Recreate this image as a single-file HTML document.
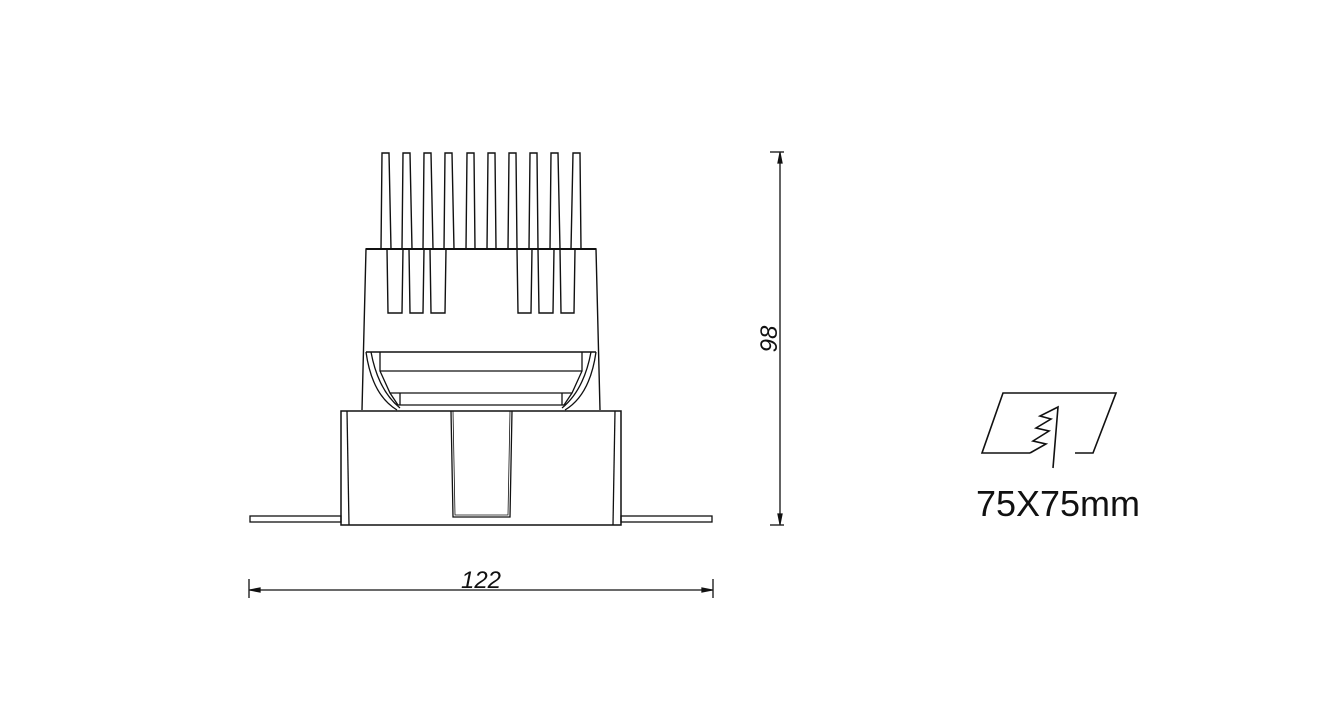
<!DOCTYPE html>
<html><head><meta charset="utf-8"><style>
html,body{margin:0;padding:0;background:#fff;}
svg{display:block;}
</style></head><body>
<svg width="1322" height="723" viewBox="0 0 1322 723" xmlns="http://www.w3.org/2000/svg" fill="none" stroke="#111" stroke-width="1.3">
<g stroke-width="1.4">
<path d="M381,249 L382,153 L389,153 L391,249"/>
<path d="M402,249 L403,153 L410,153 L412,249"/>
<path d="M423,249 L424,153 L431,153 L433,249"/>
<path d="M444,249 L445,153 L452,153 L454,249"/>
<path d="M466,249 L467,153 L474,153 L475,249"/>
<path d="M487,249 L488,153 L495,153 L496,249"/>
<path d="M508,249 L509,153 L516,153 L517,249"/>
<path d="M529,249 L530,153 L537,153 L538,249"/>
<path d="M550,249 L551,153 L558,153 L560,249"/>
<path d="M571,249 L573,153 L580,153 L581,249"/>
</g>
<path d="M381,249 L366,249 L362,410 M581,249 L596,249 L600,410" stroke-width="1.4"/>
<line x1="366" y1="249" x2="596" y2="249" stroke-width="2"/>
<line x1="366" y1="352" x2="596" y2="352" stroke-width="1.6"/>
<g stroke-width="1.4">
<path d="M387,249 L388,313 L402,313 L403,249"/>
<path d="M409,249 L410,313 L423,313 L424,249"/>
<path d="M430,249 L431,313 L445,313 L446,249"/>
<path d="M517,249 L518,313 L531,313 L532,249"/>
<path d="M538,249 L539,313 L553,313 L554,249"/>
<path d="M560,249 L561,313 L574,313 L575,249"/>
</g>
<line x1="380" y1="371" x2="582" y2="371"/>
<line x1="390" y1="393" x2="572" y2="393"/>
<line x1="400" y1="393" x2="400" y2="405"/>
<line x1="562" y1="393" x2="562" y2="405"/>
<line x1="398" y1="405" x2="564" y2="405"/>
<path d="M366,352 Q372,395 397,410 M371,352 Q378,390 400,408 M380,352 L380,371 L390,393 L398,405"/>
<path d="M596,352 Q590,395 565,410 M591,352 Q584,390 562,408 M582,352 L582,371 L572,393 L564,405"/>
<rect x="341" y="411" width="280" height="114" stroke-width="1.5"/>
<line x1="347" y1="411" x2="349" y2="525"/>
<line x1="615" y1="411" x2="613" y2="525"/>
<path d="M451,411 L453,517 L510,517 L512,411"/>
<path d="M453,411 L455,515 L508,515 L510,411" stroke-width="0.8"/>
<rect x="250" y="516" width="91" height="6"/>
<rect x="621" y="516" width="91" height="6"/>
<line x1="249" y1="590" x2="713" y2="590"/>
<line x1="249" y1="579" x2="249" y2="598"/>
<line x1="713" y1="579" x2="713" y2="598"/>
<path d="M250,590 L260,588 L260,592Z M712,590 L702,588 L702,592Z" fill="#111"/>
<text x="481" y="588" font-family="Liberation Sans, sans-serif" font-style="italic" font-size="24" fill="#111" stroke="none" text-anchor="middle">122</text>
<line x1="780" y1="152" x2="780" y2="525"/>
<line x1="770" y1="152" x2="784" y2="152"/>
<line x1="770" y1="525" x2="784" y2="525"/>
<path d="M780,153 L778,163 L782,163Z M780,524 L778,514 L782,514Z" fill="#111"/>
<text x="0" y="0" transform="translate(777,339) rotate(-90)" font-family="Liberation Sans, sans-serif" font-style="italic" font-size="24" fill="#111" stroke="none" text-anchor="middle">98</text>
<g stroke-width="1.6">
<path d="M1030,453 L982,453 L1003,393 L1116,393 L1093,453 L1075,453"/>
<path d="M1030,453 L1046,444 L1033,441 L1049,431 L1036,428 L1051,419 L1040,416 L1058,407 L1053,468"/>
</g>
<text x="1058" y="516" font-family="Liberation Sans, sans-serif" font-size="36" fill="#111" stroke="none" text-anchor="middle">75X75mm</text>
</svg>
</body></html>
